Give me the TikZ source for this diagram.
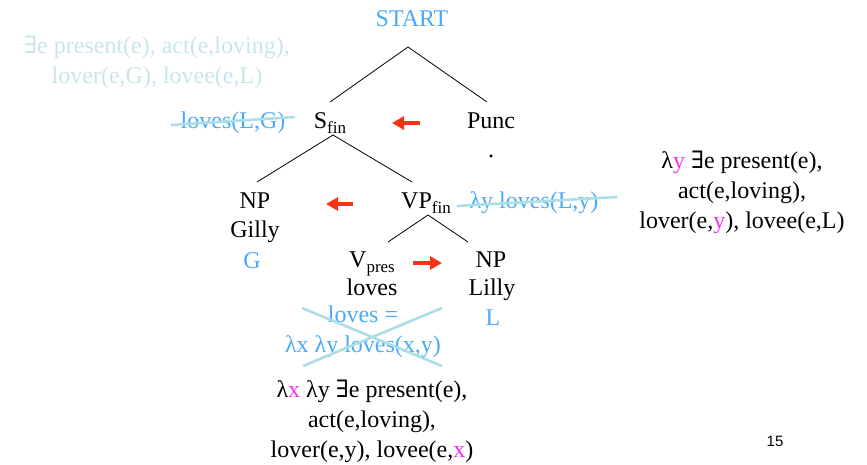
\documentclass[tikz,border=0pt]{standalone}
\usepackage{fontspec}
\setmainfont{Liberation Serif}
\newfontfamily\symfont{DejaVu Serif}
\newfontfamily\numfont{Liberation Sans}
\usetikzlibrary{arrows.meta}

\definecolor{semblue}{RGB}{74,170,250}
\definecolor{fadedsem}{RGB}{200,230,234}
\definecolor{strikecol}{RGB}{172,222,230}
\definecolor{dirred}{RGB}{250,50,20}
\definecolor{varpink}{RGB}{240,50,240}

\newcommand\exq{{\symfont ∃}}
\newcommand\catsub[1]{\raisebox{-5pt}{\fontsize{17}{17}\selectfont #1}}
\newcommand\pv[1]{\textcolor{varpink}{#1}}

\begin{document}
\begin{tikzpicture}[x=1pt, y=-1pt,
  every node/.style={inner sep=0pt, outer sep=0pt},
  word/.style={anchor=base, font=\fontsize{24}{30}\selectfont},
  sem/.style={word, text=semblue},
  faded/.style={word, text=fadedsem, align=center},
  strike/.style={strikecol, line width=2.6pt},
  branch/.style={black, line width=0.8pt},
  dirarrow/.style={dirred, line width=3.2pt, -{Triangle[length=12pt, width=13pt]}}]

\useasboundingbox (0,0) rectangle (867,464);

% categories
\node[sem] (start) at (412,26) {START};
\node[word] (s) at (330,128) {S\catsub{fin}};
\node[word] (punc) at (491,128) {Punc};
\node[word] (dot) at (491,157) {.};
\node[word] (np1) at (255,208) {NP};
\node[word] (gilly) at (255,237) {Gilly};
\node[sem] (g) at (252,268) {G};
\node[word] (vp) at (426,208) {VP\catsub{fin}};
\node[word] (v) at (372,267) {V\catsub{pres}};
\node[word] (loves) at (372,295) {loves};
\node[word] (np2) at (491,267) {NP};
\node[word] (lilly) at (492,295) {Lilly};
\node[sem] (l) at (493,325) {L};

% semantics (multi-line nodes sit on the baseline of their last line)
\node[faded] (meaning) at (157,83) {\exq e present(e), act(e,loving),\\lover(e,G), lovee(e,L)};
\node[sem] (sgloss) at (233,128) {loves(L,G)};
\node[sem] (vpgloss) at (534,208) {λy loves(L,y)};
\node[word, align=center] (vpsem) at (742,228)
  {λ\pv{y} \exq e present(e),\\act(e,loving),\\lover(e,\pv{y}), lovee(e,L)};
\node[sem, align=center] (vgloss) at (363,352) {loves =\\λx λy loves(x,y)};
\node[word, align=center] (vsem) at (372,457)
  {λ\pv{x} λy \exq e present(e),\\act(e,loving),\\lover(e,y), lovee(e,\pv{x})};
\node[anchor=base, font=\numfont\fontsize{15}{15}\selectfont] (pagenum) at (775,446) {15};

% branch points of the tree
\coordinate (startfoot) at (408,47);
\coordinate (stop) at (330,102);
\coordinate (punctop) at (487,102);
\coordinate (sfoot) at (333,135);
\coordinate (nponetop) at (257,182);
\coordinate (vptop) at (412,182);
\coordinate (vpfoot) at (428,215);
\coordinate (vtop) at (388,242);
\coordinate (nptwotop) at (468,242);

\draw[branch] (stop) -- (startfoot) -- (punctop);
\draw[branch] (nponetop) -- (sfoot) -- (vptop);
\draw[branch] (vtop) -- (vpfoot) -- (nptwotop);

% crossed-out glosses
\coordinate (sglossL) at (171,125);
\coordinate (sglossR) at (295,117);
\coordinate (vpglossL) at (457,206);
\coordinate (vpglossR) at (617,197);
\coordinate (xa) at (302,308);
\coordinate (xb) at (442,366);
\coordinate (xc) at (442,308);
\coordinate (xd) at (303,366);
\draw[strike] (sglossL) -- (sglossR);
\draw[strike] (vpglossL) -- (vpglossR);
\draw[strike] (xa) -- (xb);
\draw[strike] (xc) -- (xd);

% head direction arrows
\coordinate (arA1) at (420,123);
\coordinate (arA2) at (392,123);
\coordinate (arB1) at (353,204);
\coordinate (arB2) at (326,204);
\coordinate (arC1) at (413,263);
\coordinate (arC2) at (442,263);
\draw[dirarrow] (arA1) -- (arA2);
\draw[dirarrow] (arB1) -- (arB2);
\draw[dirarrow] (arC1) -- (arC2);
\end{tikzpicture}
\end{document}
